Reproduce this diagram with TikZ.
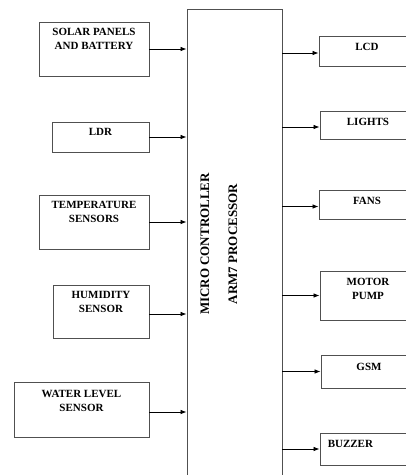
\documentclass[tikz,border=0pt]{standalone}
\usepackage{fontspec}
\setmainfont{Liberation Serif}
\usepackage{tikz}
\usetikzlibrary{arrows.meta,positioning}
\definecolor{BoxLine}{HTML}{505050}
\tikzset{
  blk/.style={draw=BoxLine,line width=0.9pt,inner sep=0pt,fill=white},
  lbl/.style={font=\fontsize{11}{14}\selectfont\bfseries,align=center,inner sep=0pt},
  conn/.style={line width=0.7pt,-{Latex[length=6pt,width=4.5pt]}}
}

\begin{document}
\begin{tikzpicture}[x=1pt,y=-1pt]
  \useasboundingbox (0,0) rectangle (406,475);
  \clip (0,0) rectangle (406,475);

  % --- Main block ---
  \node[blk,minimum width=95,minimum height=490] (mc) at (234.5,254) {};
  \node[font=\fontsize{13}{28}\selectfont\bfseries,align=center,rotate=90,inner sep=0pt]
    (mctxt) at (219,244) {MICRO CONTROLLER\\ARM7 PROCESSOR};

  % --- Inputs (left) ---
  \node[blk,minimum width=110,minimum height=54] (solar) at (94,49) {};
  \node[lbl,anchor=north] (solartxt) at ([yshift=-6.5pt]solar.north) {SOLAR PANELS\\AND BATTERY};
  \node[blk,minimum width=97,minimum height=30] (ldr) at (100.5,137) {};
  \node[lbl,anchor=north] (ldrtxt) at ([yshift=-7pt]ldr.north) {LDR};
  \node[blk,minimum width=110,minimum height=54] (temp) at (94,222) {};
  \node[lbl,anchor=north] (temptxt) at ([yshift=-6pt]temp.north) {TEMPERATURE\\SENSORS};
  \node[blk,minimum width=96,minimum height=53] (humid) at (101,311.5) {};
  \node[lbl,anchor=north] (humidtxt) at ([yshift=-7pt]humid.north) {HUMIDITY\\SENSOR};
  \node[blk,minimum width=135,minimum height=55] (water) at (81.5,409.5) {};
  \node[lbl,anchor=north] (watertxt) at ([yshift=-8pt]water.north) {WATER LEVEL\\SENSOR};

  % --- Outputs (right) ---
  \node[blk,minimum width=96,minimum height=30] (lcd) at (367,51) {};
  \node[lbl,anchor=north] (lcdtxt) at ([yshift=-7pt]lcd.north) {LCD};
  \node[blk,minimum width=96,minimum height=28] (lights) at (368,125) {};
  \node[lbl,anchor=north] (lightstxt) at ([yshift=-7pt]lights.north) {LIGHTS};
  \node[blk,minimum width=96,minimum height=29] (fans) at (367,204.5) {};
  \node[lbl,anchor=north] (fanstxt) at ([yshift=-7pt]fans.north) {FANS};
  \node[blk,minimum width=96,minimum height=49] (motor) at (368,295.5) {};
  \node[lbl,anchor=north] (motortxt) at ([yshift=-7pt]motor.north) {MOTOR\\PUMP};
  \node[blk,minimum width=96,minimum height=33] (gsm) at (369,371.5) {};
  \node[lbl,anchor=north] (gsmtxt) at ([yshift=-8pt]gsm.north) {GSM};
  \node[blk,minimum width=96,minimum height=32] (buzzer) at (368,449) {};
  \node[lbl,anchor=north west] (buzzertxt) at ([xshift=8pt,yshift=-8pt]buzzer.north west) {BUZZER};

  % --- Connectors ---
  \foreach \src in {solar,ldr,temp}
    \draw[conn] (\src.east) -- (\src.east -| mc.west);
  \foreach \src in {humid,water}
    \draw[conn] ([yshift=-2.5pt]\src.east) -- ([yshift=-2.5pt]\src.east -| mc.west);
  \foreach \dst in {lcd,lights,fans}
    \draw[conn] ([yshift=-2pt]\dst.west -| mc.east) -- ([yshift=-2pt]\dst.west);
  \foreach \dst in {motor,gsm,buzzer}
    \draw[conn] (\dst.west -| mc.east) -- (\dst.west);
\end{tikzpicture}
\end{document}
